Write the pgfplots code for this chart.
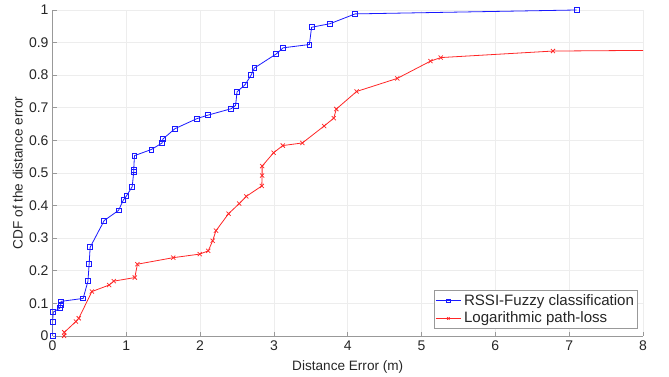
\documentclass[border=0pt]{standalone}
\usepackage{pgfplots}
\pgfplotsset{compat=1.18}
\usepackage{fontspec}
\setmainfont{Liberation Sans}
\definecolor{mblue}{rgb}{0.1,0.1,1}
\definecolor{mred}{rgb}{1,0.15,0.15}
\definecolor{axgray}{gray}{0.6}
\begin{document}
\begin{tikzpicture}
\begin{axis}[
  scale only axis,
  width=443pt, height=244.5pt,
  xmin=0, xmax=8, ymin=0, ymax=1,
  xtick={0,1,...,8},
  ytick={0,0.1,...,1},
  yticklabels={0,0.1,0.2,0.3,0.4,0.5,0.6,0.7,0.8,0.9,1},
  axis lines=left,
  axis line style={axgray, -},
  tick style={axgray, thin},
  major tick length=3pt,
  tick align=inside,
  grid=major,
  grid style={gray!14, line width=0.5pt},
  ticklabel style={font=\fontsize{10.5}{12}\selectfont, text=black!85},
  yticklabel style={xshift=0.5pt},
  /pgf/number format/assume math mode=true,
  xlabel={Distance Error (m)},
  ylabel={CDF of the distance error},
  label style={font=\fontsize{10.2}{12}\selectfont, text=black!85},
  xlabel style={at={(axis description cs:0.5,-0.1074)}, anchor=base},
  ylabel style={at={(axis description cs:-0.0587,0.5)}, anchor=center},
  legend style={at={(0.9915,0.0215)}, anchor=south east, draw=axgray, font=\fontsize{11.3}{13.5}\selectfont, inner sep=0.8pt, row sep=-0.5pt, legend cell align=left, text=black!85},
  legend image code/.code={\draw[#1] (0pt,0pt) -- (19pt,0pt); \path[#1, mark size=1.3pt] plot coordinates {(9.5pt,0pt)};},
  clip mode=individual,
]
\addplot[mblue, line width=0.6pt, mark=square, mark size=1.8pt, mark options={solid, line width=0.55pt}] coordinates {
(0,0) (0,0.042) (0.01,0.073) (0.099,0.085) (0.11,0.095) (0.117,0.106)
(0.415,0.115) (0.48,0.168) (0.496,0.22) (0.51,0.272) (0.70,0.354)
(0.894,0.385) (0.96,0.417) (1.0,0.429) (1.08,0.458) (1.10,0.503) (1.10,0.51)
(1.11,0.553) (1.34,0.572) (1.485,0.592) (1.495,0.604) (1.66,0.636)
(1.96,0.667) (2.10,0.677) (2.42,0.697) (2.48,0.707) (2.50,0.749)
(2.61,0.771) (2.69,0.80) (2.735,0.822) (3.03,0.865) (3.125,0.884)
(3.48,0.894) (3.51,0.947) (3.76,0.958) (4.10,0.988) (7.10,1.0)
};
\addlegendentry{RSSI-Fuzzy classification}
\addplot[mred, line width=0.6pt, mark=x, mark size=2.2pt, mark options={solid, line width=0.55pt}] coordinates {
(0.157,0) (0.16,0.011) (0.316,0.044) (0.356,0.054) (0.533,0.136)
(0.767,0.156) (0.83,0.168) (1.115,0.179) (1.15,0.22) (1.635,0.24)
(1.995,0.251) (2.11,0.261) (2.17,0.292) (2.215,0.323) (2.385,0.375)
(2.53,0.406) (2.625,0.428) (2.835,0.46) (2.84,0.492) (2.84,0.521)
(2.995,0.562) (3.12,0.584) (3.385,0.592) (3.68,0.644) (3.81,0.668)
(3.845,0.696) (4.12,0.75) (4.67,0.79) (5.12,0.843) (5.26,0.854)
(6.78,0.874)
};
\addlegendentry{Logarithmic path-loss}
\addplot[mred, line width=0.6pt, forget plot] coordinates {(6.78,0.874) (8,0.876)};
\end{axis}
\pgfresetboundingbox
\useasboundingbox ([xshift=-39.4pt,yshift=-30.75pt]current axis.south west) rectangle ([xshift=19.5pt,yshift=7.5pt]current axis.north east);
\end{tikzpicture}
\end{document}
